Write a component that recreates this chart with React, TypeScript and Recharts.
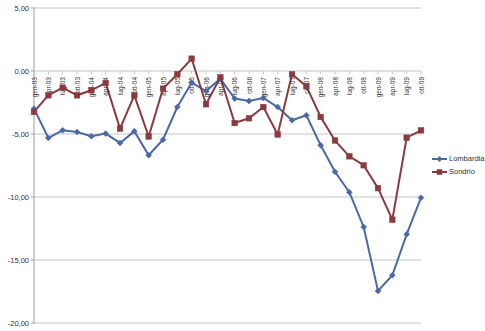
import React from 'react';
import { LineChart, Line, XAxis, YAxis, CartesianGrid, ReferenceDot, Legend } from 'recharts';

const quarters = [
  'gen-03', 'apr-03', 'lug-03', 'ott-03',
  'gen-04', 'apr-04', 'lug-04', 'ott-04',
  'gen-05', 'apr-05', 'lug-05', 'ott-05',
  'gen-06', 'apr-06', 'lug-06', 'ott-06',
  'gen-07', 'apr-07', 'lug-07', 'ott-07',
  'gen-08', 'apr-08', 'lug-08', 'ott-08',
  'gen-09', 'apr-09', 'lug-09', 'ott-09',
];

const lombardia = [
  -2.99, -5.31, -4.71, -4.84,
  -5.18, -4.97, -5.71, -4.79,
  -6.69, -5.45, -2.86, -0.92,
  -1.59, -0.61, -2.19, -2.38,
  -2.14, -2.86, -3.91, -3.52,
  -5.9, -8.0, -9.62, -12.38,
  -17.46, -16.21, -12.96, -10.05,
];

const sondrio = [
  -3.25, -1.93, -1.32, -1.93,
  -1.53, -0.95, -4.57, -1.93,
  -5.2, -1.4, -0.26, 0.98,
  -2.64, -0.5, -4.13, -3.75,
  -2.86, -5.04, -0.26, -1.2,
  -3.65, -5.52, -6.77, -7.48,
  -9.3, -11.8, -5.29, -4.71,
];

const yTicks = [5, 0, -5, -10, -15, -20];

const BLUE = '#4a68a6';
const RED = '#8b3a3e';
const GRID = '#c4c4c4';
const FONT = '"Liberation Sans", Arial, sans-serif';

const data = quarters.map((q, i) => ({ q, Lombardia: lombardia[i], Sondrio: sondrio[i] }));

const Diamond = (props: any) => {
  const { cx, cy } = props;
  if (cx == null || cy == null) return null;
  const s = 3;
  return <polygon points={`${cx},${cy - s} ${cx + s},${cy} ${cx},${cy + s} ${cx - s},${cy}`} fill={BLUE} stroke={BLUE} strokeWidth={0.5} />;
};

const Square = (props: any) => {
  const { cx, cy } = props;
  if (cx == null || cy == null) return null;
  const s = 2.8;
  return <rect x={cx - s} y={cy - s} width={2 * s} height={2 * s} fill={RED} stroke={RED} strokeWidth={0.5} />;
};

const makeTickShape = (label: string) => (props: any) => {
  const { cx, cy } = props;
  if (cx == null || cy == null) return null;
  const ty = cy + 6;
  return (
    <g>
      <line x1={cx} y1={cy} x2={cx} y2={cy + 3} stroke={GRID} strokeWidth={1} />
      <text
        x={cx}
        y={ty}
        transform={`rotate(-90 ${cx} ${ty})`}
        textAnchor="end"
        dominantBaseline="central"
        fontSize={6.5}
        fontFamily={FONT}
        fill="#333"
      >
        {label}
      </text>
    </g>
  );
};

const LegendContent = () => {
  const items = [
    { name: 'Lombardia', color: BLUE, marker: 'diamond' },
    { name: 'Sondrio', color: RED, marker: 'square' },
  ];
  return (
    <div style={{ fontFamily: FONT, fontSize: 7.5, color: '#333' }}>
      {items.map((it) => (
        <div key={it.name} style={{ display: 'flex', alignItems: 'center', height: 13 }}>
          <svg width={16} height={10} style={{ marginRight: 1 }}>
            <line x1={0} y1={5} x2={15} y2={5} stroke={it.color} strokeWidth={2} />
            {it.marker === 'diamond' ? (
              <polygon points="7.5,2 10.5,5 7.5,8 4.5,5" fill={it.color} />
            ) : (
              <rect x={4.7} y={2.2} width={5.6} height={5.6} fill={it.color} />
            )}
          </svg>
          <span>{it.name}</span>
        </div>
      ))}
    </div>
  );
};

export default function App() {
  return (
    <div style={{ position: 'absolute', left: 0, top: 0, width: 485, height: 331, background: '#fff' }}>
      <LineChart width={485} height={331} data={data} margin={{ top: 8, right: 64, bottom: 8, left: 0 }}>
        <CartesianGrid vertical={false} stroke={GRID} strokeWidth={1} />
        <XAxis dataKey="q" hide />
        <YAxis
          domain={[-20, 5]}
          ticks={yTicks}
          interval={0}
          width={34}
          tickFormatter={(v: number) => v.toFixed(2).replace('.', ',')}
          axisLine={{ stroke: '#9a9a9a' }}
          tickLine={{ stroke: '#9a9a9a' }}
          tickSize={3}
          tickMargin={2}
          tick={{ fontSize: 7.5, fill: '#333', fontFamily: FONT }}
        />
        {quarters.map((q) => (
          <ReferenceDot key={q} x={q} y={0} r={0} shape={makeTickShape(q)} ifOverflow="visible" />
        ))}
        <Line
          type="linear"
          dataKey="Lombardia"
          stroke={BLUE}
          strokeWidth={2}
          dot={<Diamond />}
          activeDot={false}
          isAnimationActive={false}
        />
        <Line
          type="linear"
          dataKey="Sondrio"
          stroke={RED}
          strokeWidth={2}
          dot={<Square />}
          activeDot={false}
          isAnimationActive={false}
        />
        <Legend
          layout="horizontal"
          align="center"
          verticalAlign="middle"
          content={<LegendContent />}
          wrapperStyle={{ left: 432, top: 152, width: 55, height: 28 }}
        />
      </LineChart>
    </div>
  );
}
